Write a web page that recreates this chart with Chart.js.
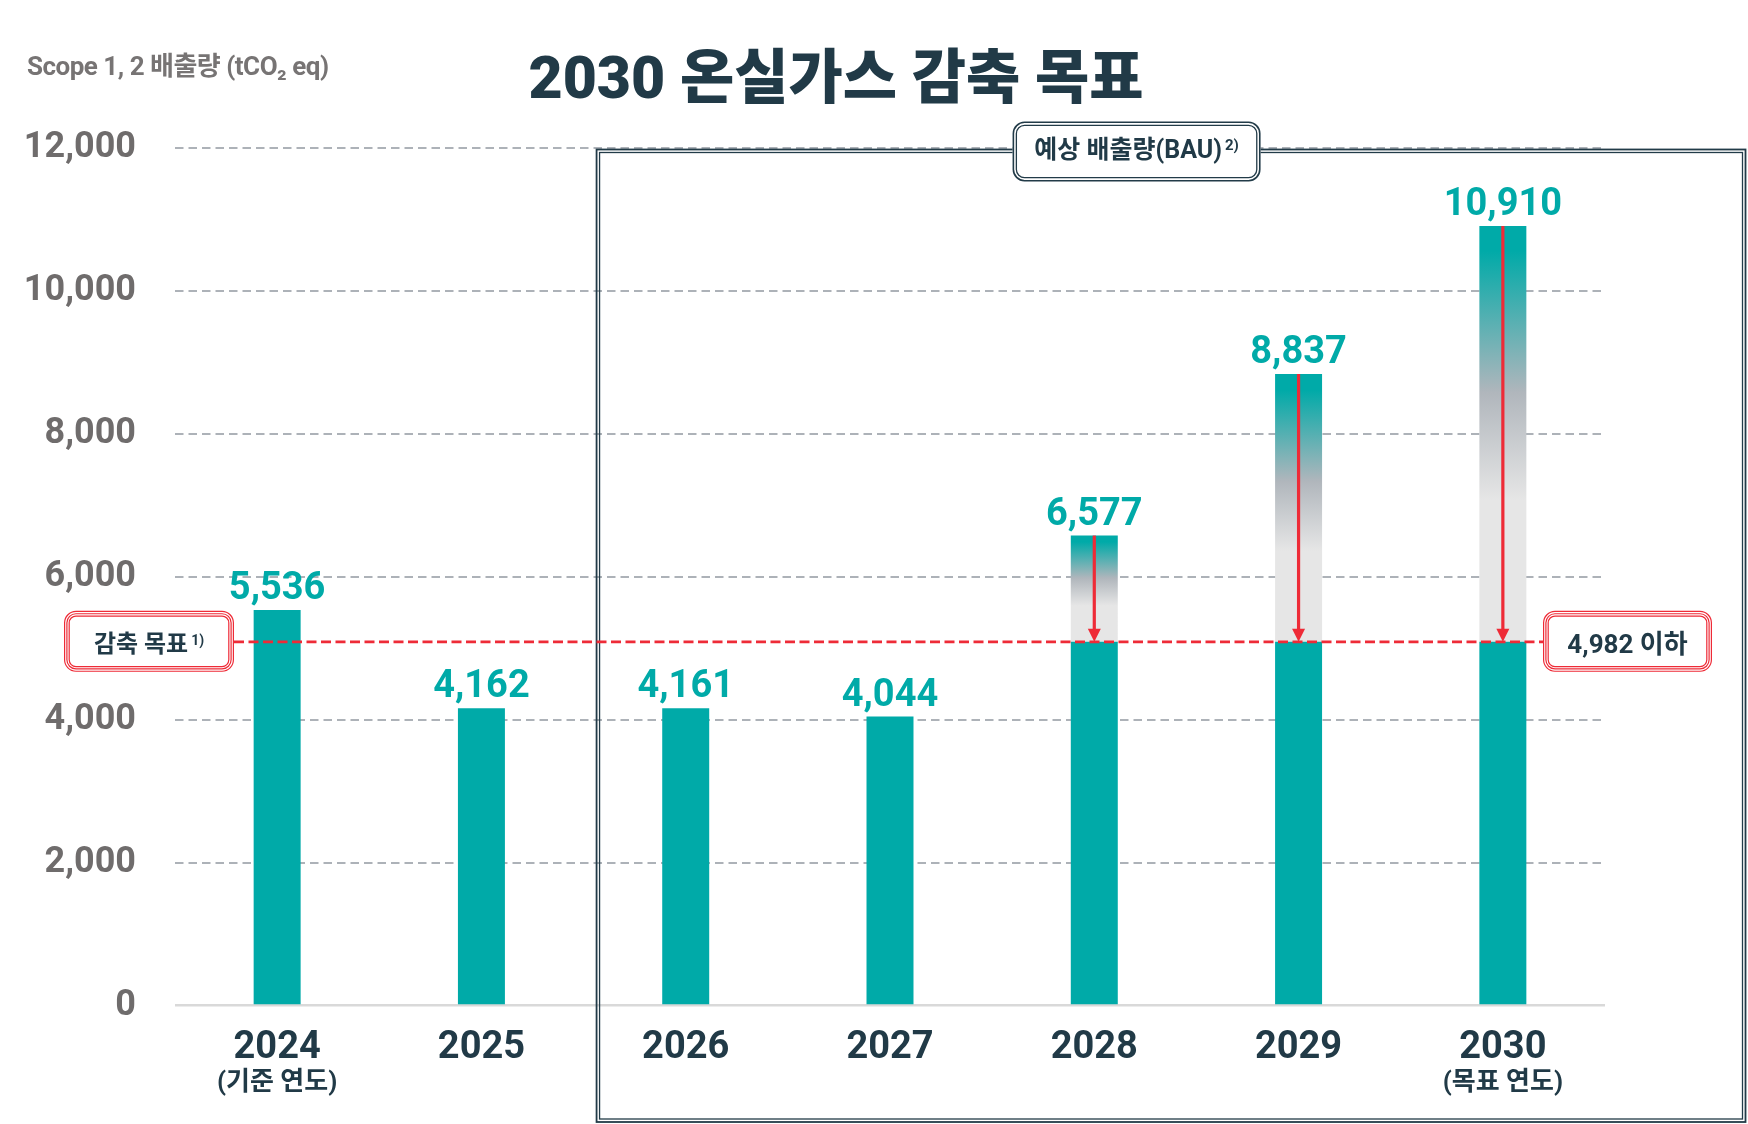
<!DOCTYPE html>
<html lang="ko">
<head>
<meta charset="UTF-8">
<title>2030 온실가스 감축 목표</title>
<script src="https://cdn.jsdelivr.net/npm/chart.js"></script>
<style>
  body { margin: 0; background: #fff; }
  .wrap { position: relative; width: 1748px; height: 1124px; overflow: hidden; }
  #chart { position: absolute; left: 0; top: 0; }
  .unit {
    position: absolute; left: 27px; top: 45px; line-height: 1; white-space: nowrap;
    font: 700 26px Roboto, 'Noto Sans CJK KR', sans-serif; color: #777474; letter-spacing: -0.5px;
  }
  .title {
    position: absolute; left: 836px; top: 30px; transform: translateX(-50%); margin: 0;
    line-height: 1; white-space: nowrap;
    font: 900 59px Roboto, 'Noto Sans CJK KR', sans-serif; color: #213a47;
  }
</style>
</head>
<body>
<div class="wrap">
  <canvas id="chart" width="1748" height="1124"></canvas>
  <div class="unit">Scope 1, 2 배출량 (tCO₂ eq)</div>
  <h1 class="title">2030 온실가스 감축 목표</h1>
</div>

<script>
  // data
  const years = ['2024', '2025', '2026', '2027', '2028', '2029', '2030'];
  const yearNotes = ['(기준 연도)', '', '', '', '', '', '(목표 연도)'];
  const actual = [5536, 4162, 4161, 4044, null, null, null];
  const bau = [null, null, null, null, 6577, 8837, 10910];
  const targetLine = 5090;          // where the dashed target line sits on the scale
  const targetText = '4,982 이하';
  const yTicks = [0, 2000, 4000, 6000, 8000, 10000, 12000];

  const FONT = "Roboto, 'Noto Sans CJK KR', sans-serif";
  const TEAL = '#00aaa8';
  const NAVY = '#213a47';
  const RED = '#ee2b37';

  Chart.defaults.font.family = FONT;

  const baseValues = years.map((_, i) => bau[i] != null ? targetLine : actual[i]);
  const excessValues = years.map((_, i) => bau[i] != null ? bau[i] - targetLine : null);

  function roundRectPath(c, x, y, w, h, r) {
    c.beginPath();
    c.moveTo(x + r, y);
    c.arcTo(x + w, y, x + w, y + h, r);
    c.arcTo(x + w, y + h, x, y + h, r);
    c.arcTo(x, y + h, x, y, r);
    c.arcTo(x, y, x + w, y, r);
    c.closePath();
  }

  function framedBox(c, x, y, w, h, r, color, lines) {
    c.save();
    roundRectPath(c, x, y, w, h, r);
    c.fillStyle = '#fff';
    c.fill();
    c.strokeStyle = color;
    lines.forEach(([inset, lw]) => {
      c.lineWidth = lw;
      roundRectPath(c, x + inset, y + inset, w - 2 * inset, h - 2 * inset, Math.max(r - inset, 1));
      c.stroke();
    });
    c.restore();
  }

  function textWithSup(c, main, sup, cx, cy, size, supSize) {
    c.save();
    c.fillStyle = NAVY;
    c.textBaseline = 'middle';
    c.textAlign = 'left';
    c.font = `700 ${size}px ${FONT}`;
    const mw = c.measureText(main).width;
    c.font = `700 ${supSize}px ${FONT}`;
    const sw = sup ? c.measureText(sup).width + 3 : 0;
    const x = cx - (mw + sw) / 2;
    c.font = `700 ${size}px ${FONT}`;
    c.fillText(main, x, cy);
    if (sup) {
      c.font = `700 ${supSize}px ${FONT}`;
      c.fillText(sup, x + mw + 3, cy - size * 0.2);
    }
    c.restore();
  }

  const overlay = {
    id: 'overlay',
    afterDatasetsDraw(chart) {
      const c = chart.ctx;
      const xs = chart.scales.x, ys = chart.scales.y;
      const ca = chart.chartArea;
      const ty = ys.getPixelForValue(targetLine);

      // BAU frame (double line)
      const fx = (xs.getPixelForValue(1) + xs.getPixelForValue(2)) / 2 + 13;
      const fy = ys.getPixelForValue(yTicks[yTicks.length - 1]) + 1.5;
      const fr = chart.width - 2.5, fb = chart.height - 2;
      c.save();
      c.strokeStyle = '#223b48';
      c.lineWidth = 1.8;
      c.strokeRect(fx, fy, fr - fx, fb - fy);
      c.lineWidth = 1.3;
      c.strokeRect(fx + 3, fy + 3, fr - fx - 6, fb - fy - 6);
      c.restore();

      // BAU label
      const lx = fx + 540;
      framedBox(c, lx - 124, fy - 28, 248, 60, 12, '#223b48', [[0.8, 1.6], [3.8, 1.3]]);
      textWithSup(c, '예상 배출량(BAU)', '2)', lx, fy + 2, 25, 15);

      // target dashed line
      const leftBoxX = ca.left - 111, rightBoxX = ca.right - 62;
      c.save();
      c.strokeStyle = RED;
      c.lineWidth = 2.6;
      c.setLineDash([10, 4.5]);
      c.beginPath();
      c.moveTo(leftBoxX + 170, ty);
      c.lineTo(rightBoxX, ty);
      c.stroke();
      c.restore();

      // arrows from BAU down to target
      years.forEach((_, i) => {
        if (bau[i] == null) return;
        const x = xs.getPixelForValue(i);
        const top = ys.getPixelForValue(bau[i]);
        c.save();
        c.strokeStyle = RED;
        c.fillStyle = RED;
        c.lineWidth = 3.2;
        c.beginPath();
        c.moveTo(x, top);
        c.lineTo(x, ty - 11);
        c.stroke();
        c.beginPath();
        c.moveTo(x - 6.5, ty - 13);
        c.lineTo(x + 6.5, ty - 13);
        c.lineTo(x, ty);
        c.closePath();
        c.fill();
        c.restore();
      });

      // value labels
      c.save();
      c.fillStyle = TEAL;
      c.font = `700 38px ${FONT}`;
      c.textAlign = 'center';
      c.textBaseline = 'alphabetic';
      years.forEach((_, i) => {
        const v = bau[i] != null ? bau[i] : actual[i];
        c.fillText(v.toLocaleString('en-US'), xs.getPixelForValue(i), ys.getPixelForValue(v) - 11);
      });
      c.restore();

      // red boxes at both ends of the target line
      const red3 = [[0.6, 1.2], [2.9, 1.2], [5.2, 1.2]];
      framedBox(c, leftBoxX, ty - 31, 170, 61, 12, RED, red3);
      textWithSup(c, '감축 목표', '1)', leftBoxX + 85, ty + 4, 24, 14);
      framedBox(c, rightBoxX, ty - 31, 169, 61, 12, RED, red3);
      textWithSup(c, targetText, '', rightBoxX + 84.5, ty + 5, 26, 14);

      // second line under year labels
      c.save();
      c.fillStyle = NAVY;
      c.font = `700 26px ${FONT}`;
      c.textAlign = 'center';
      c.textBaseline = 'middle';
      yearNotes.forEach((note, i) => {
        if (note) c.fillText(note, xs.getPixelForValue(i), ca.bottom + 78);
      });
      c.restore();
    }
  };

  new Chart(document.getElementById('chart'), {
    type: 'bar',
    data: {
      labels: years,
      datasets: [{
        data: baseValues,
        backgroundColor: TEAL,
        barPercentage: 0.23,
        categoryPercentage: 1
      }, {
        data: excessValues,
        barPercentage: 0.23,
        categoryPercentage: 1,
        backgroundColor(ctx) {
          const { chart, dataIndex } = ctx;
          const y = chart.scales.y;
          if (!y || dataIndex == null || bau[dataIndex] == null) return TEAL;
          const top = y.getPixelForValue(bau[dataIndex]);
          const bot = y.getPixelForValue(targetLine);
          if (!isFinite(top) || !isFinite(bot) || top === bot) return TEAL;
          const g = chart.ctx.createLinearGradient(0, top, 0, bot);
          g.addColorStop(0, TEAL);
          g.addColorStop(0.06, TEAL);
          g.addColorStop(0.4, '#b0b6bc');
          g.addColorStop(0.66, '#e6e6e6');
          g.addColorStop(1, '#e6e6e6');
          return g;
        }
      }]
    },
    options: {
      responsive: false,
      animation: false,
      layout: { padding: { top: 148, right: 143, bottom: 0, left: 0 } },
      plugins: { legend: { display: false }, tooltip: { enabled: false } },
      scales: {
        x: {
          stacked: true,
          grid: { display: false },
          border: { display: false },
          ticks: {
            color: NAVY,
            font: { size: 38, weight: '700' },
            padding: 12,
            maxRotation: 0,
            autoSkip: false
          },
          afterFit(s) { s.height = 118.4; }
        },
        y: {
          stacked: true,
          min: yTicks[0],
          max: yTicks[yTicks.length - 1],
          afterBuildTicks(s) { s.ticks = yTicks.map(v => ({ value: v })); },
          afterFit(s) { s.width = 175; },
          border: {
            display: false,
            dash: ctx => (ctx.tick && ctx.tick.value === 0) ? [] : [8.5, 5]
          },
          grid: {
            drawTicks: false,
            color: ctx => (ctx.tick && ctx.tick.value === 0) ? '#d9d9d9' : '#adb2b8',
            lineWidth: ctx => (ctx.tick && ctx.tick.value === 0) ? 2.5 : 2
          },
          ticks: {
            color: '#6f6c6c',
            font: { size: 36, weight: '700' },
            padding: 39,
            callback: v => v.toLocaleString('en-US')
          }
        }
      }
    },
    plugins: [overlay]
  });
</script>
</body>
</html>
